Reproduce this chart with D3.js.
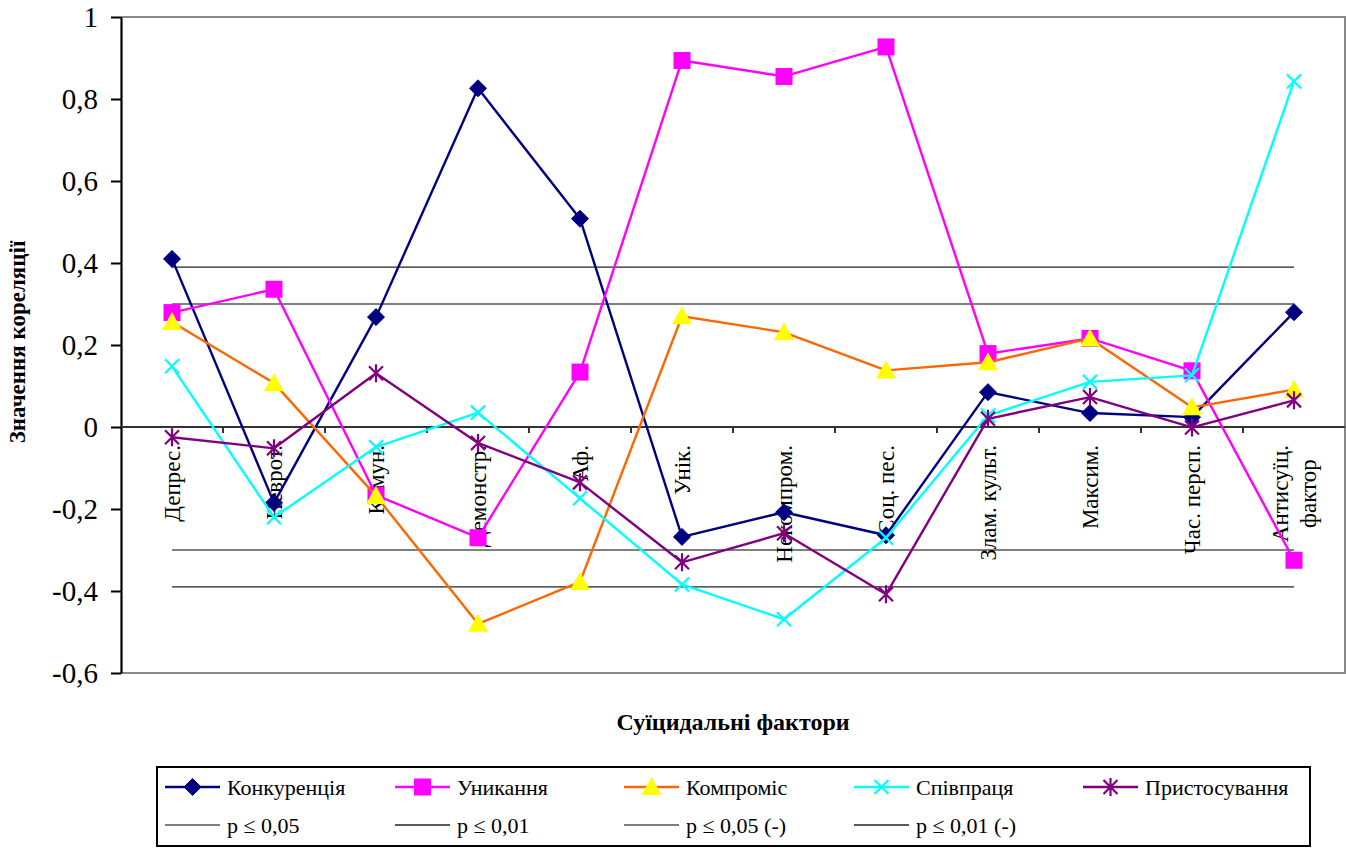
<!DOCTYPE html>
<html>
<head>
<meta charset="utf-8">
<script src="https://cdn.jsdelivr.net/npm/d3@7"></script>
<style>
  html, body { margin: 0; padding: 0; background: #fff; }
  svg#chart text { font-family: "Liberation Serif", serif !important; }
</style>
</head>
<body>
<svg id="chart" width="1346" height="849"></svg>
<script>
const FONT = "Liberation Serif, serif";

// Suicidal factors (x categories)
const categories = ["Депрес.", "Неврот.", "Комун.", "Демонстр.", "Аф.", "Унік.",
  "Некомпром.", "Соц. пес.", "Злам. культ.", "Максим.", "Час. персп.", "Антисуїц.\nфактор"];

// Correlation values for each conflict-behaviour style
const konkurentsiia = [0.41, -0.185, 0.268, 0.826, 0.508, -0.268, -0.208, -0.264, 0.085, 0.034, 0.024, 0.28];
const unykannia     = [0.279, 0.336, -0.166, -0.27, 0.134, 0.894, 0.855, 0.927, 0.179, 0.216, 0.137, -0.325];
const kompromis     = [0.256, 0.107, -0.168, -0.48, -0.378, 0.27, 0.231, 0.138, 0.158, 0.216, 0.048, 0.091];
const spivpratsia   = [0.148, -0.22, -0.049, 0.035, -0.174, -0.384, -0.469, -0.27, 0.028, 0.11, 0.126, 0.843];
const prystosuvannia= [-0.025, -0.052, 0.131, -0.039, -0.135, -0.33, -0.259, -0.408, 0.02, 0.073, -0.001, 0.065];

// Significance thresholds
const thresholdNames  = ["p ≤ 0,05", "p ≤ 0,01", "p ≤ 0,05 (-)", "p ≤ 0,01 (-)"];
const thresholdValues = [0.3, 0.39, -0.3, -0.39];

// Y-axis ticks and their labels
const yTicks = [-0.6, -0.4, -0.2, 0, 0.2, 0.4, 0.6, 0.8, 1];
const yTickLabels = ["-0,6", "-0,4", "-0,2", "0", "0,2", "0,4", "0,6", "0,8", "1"];

const seriesNames = ["Конкуренція", "Уникання", "Компроміс", "Співпраця", "Пристосування"];

const series = [
  { name: seriesNames[0], values: konkurentsiia, line: "#000080", fill: "#000080", marker: "diamond" },
  { name: seriesNames[1], values: unykannia, line: "#FF00FF", fill: "#FF00FF", marker: "square" },
  { name: seriesNames[2], values: kompromis, line: "#FF6600", fill: "#FFFF00", marker: "triangle" },
  { name: seriesNames[3], values: spivpratsia, line: "#00FFFF", fill: "#00FFFF", marker: "x" },
  { name: seriesNames[4], values: prystosuvannia, line: "#800080", fill: "#800080", marker: "star" }
];
const thresholdColors = ["#555", "#222", "#555", "#222"];

const svg = d3.select("#chart");
const plot = { left: 121, right: 1345, top: 17, bottom: 673 };

const x = d3.scaleBand().domain(categories).range([plot.left, plot.right]);
const y = d3.scaleLinear().domain([-0.6, 1]).range([plot.bottom, plot.top]);
const cx = c => x(c) + x.bandwidth() / 2;

// Adds a serif text element
function addText(parent, size, str) {
  return parent.append("text")
    .style("font-family", FONT, "important")
    .style("font-size", size + "px")
    .attr("fill", "#000")
    .text(str);
}

// Plot frame (top, right, bottom)
svg.append("path")
  .attr("d", `M${plot.left},${plot.top}H${plot.right}V${plot.bottom}H${plot.left}`)
  .attr("fill", "none").attr("stroke", "#888").attr("stroke-width", 2);

// Y axis: line and ticks from d3.axisLeft, labels drawn as serif text
const yAxis = svg.append("g").attr("transform", `translate(${plot.left},0)`)
  .call(d3.axisLeft(y).tickValues(yTicks).tickSize(10).tickSizeOuter(0).tickFormat(""));
yAxis.select(".domain").attr("stroke", "#000").attr("stroke-width", 2.2);
yAxis.selectAll(".tick line").attr("stroke", "#000").attr("stroke-width", 2);
yTicks.forEach((v, i) => {
  addText(svg, 29, yTickLabels[i])
    .attr("x", plot.left - 23).attr("y", y(v)).attr("dy", "0.36em")
    .attr("text-anchor", "end");
});

// Threshold lines, from first to last category
thresholdValues.forEach((v, i) => {
  svg.append("line")
    .attr("x1", cx(categories[0])).attr("x2", cx(categories[categories.length - 1]))
    .attr("y1", y(v)).attr("y2", y(v))
    .attr("stroke", thresholdColors[i]).attr("stroke-width", 1.3);
});

// X axis along zero, ticks at category boundaries
const xAxis = svg.append("g").attr("transform", `translate(0,${y(0)})`);
xAxis.append("line").attr("x1", plot.left).attr("x2", plot.right)
  .attr("stroke", "#333").attr("stroke-width", 2.2);
xAxis.selectAll("line.tk").data(categories.slice(1)).join("line")
  .attr("class", "tk")
  .attr("x1", d => x(d)).attr("x2", d => x(d))
  .attr("y1", 0).attr("y2", 6).attr("stroke", "#333").attr("stroke-width", 2);

// Category labels, rotated, hanging below zero line
const labelTop = y(0) + 18;
categories.forEach(c => {
  const lines = c.split("\n");
  const g = svg.append("g");
  const texts = lines.map(ln => addText(g, 23, ln));
  const w = d3.max(texts, t => t.node().getComputedTextLength());
  const lineGap = 28;
  const n = lines.length;
  texts.forEach((t, i) => {
    const offset = (i - (n - 1) / 2) * lineGap;
    t.attr("text-anchor", "middle").attr("dy", "0.35em")
      .attr("transform", `translate(${cx(c) + offset},${labelTop + w / 2}) rotate(-90)`);
  });
});

// Marker shapes
function drawMarker(g, type, px, py, s) {
  if (type === "diamond") {
    g.append("path").attr("d", `M${px},${py - 8.5}L${px + 8.5},${py}L${px},${py + 8.5}L${px - 8.5},${py}Z`)
      .attr("fill", s.fill).attr("stroke", s.line).attr("stroke-width", 1);
  } else if (type === "square") {
    g.append("rect").attr("x", px - 8.5).attr("y", py - 8.5).attr("width", 17).attr("height", 17)
      .attr("fill", s.fill);
  } else if (type === "triangle") {
    g.append("path").attr("d", `M${px},${py - 10}L${px + 10},${py + 8}L${px - 10},${py + 8}Z`)
      .attr("fill", s.fill);
  } else if (type === "x") {
    g.append("path").attr("d", `M${px - 7},${py - 7}L${px + 7},${py + 7}M${px - 7},${py + 7}L${px + 7},${py - 7}`)
      .attr("stroke", s.fill).attr("stroke-width", 2.2).attr("fill", "none");
  } else if (type === "star") {
    g.append("path").attr("d", `M${px - 7},${py - 7}L${px + 7},${py + 7}M${px - 7},${py + 7}L${px + 7},${py - 7}M${px},${py - 9}L${px},${py + 9}`)
      .attr("stroke", s.fill).attr("stroke-width", 2.2).attr("fill", "none");
  }
}

// Series lines and markers
const line = d3.line().x((d, i) => cx(categories[i])).y(d => y(d));
series.forEach(s => {
  const g = svg.append("g");
  g.append("path").datum(s.values).attr("d", line)
    .attr("fill", "none").attr("stroke", s.line).attr("stroke-width", 2.4)
    .attr("stroke-linejoin", "round");
  s.values.forEach((v, i) => drawMarker(g, s.marker, cx(categories[i]), y(v), s));
});

// Axis titles
addText(svg, 23, "Значення кореляції")
  .attr("transform", `translate(25,${(plot.top + plot.bottom) / 2 - 3}) rotate(-90)`)
  .attr("text-anchor", "middle").style("font-weight", "bold");
addText(svg, 24, "Суїцидальні фактори")
  .attr("x", (plot.left + plot.right) / 2).attr("y", 730)
  .attr("text-anchor", "middle").style("font-weight", "bold");

// Legend
const legend = svg.append("g");
legend.append("rect").attr("x", 157).attr("y", 767).attr("width", 1153).attr("height", 79)
  .attr("fill", "#fff").attr("stroke", "#000").attr("stroke-width", 2);
const colX = [165, 395, 624, 854, 1083];
series.forEach((s, i) => {
  const x0 = colX[i], yy = 787;
  legend.append("line").attr("x1", x0).attr("x2", x0 + 55).attr("y1", yy).attr("y2", yy)
    .attr("stroke", s.line).attr("stroke-width", 2.4);
  drawMarker(legend, s.marker, x0 + 27.5, yy, s);
  addText(legend, 22, s.name).attr("x", x0 + 62).attr("y", yy).attr("dy", "0.35em");
});
thresholdNames.forEach((nm, i) => {
  const x0 = colX[i], yy = 825;
  legend.append("line").attr("x1", x0).attr("x2", x0 + 55).attr("y1", yy).attr("y2", yy)
    .attr("stroke", thresholdColors[i]).attr("stroke-width", 1.3);
  addText(legend, 22, nm).attr("x", x0 + 62).attr("y", yy).attr("dy", "0.35em");
});
</script>
</body>
</html>
